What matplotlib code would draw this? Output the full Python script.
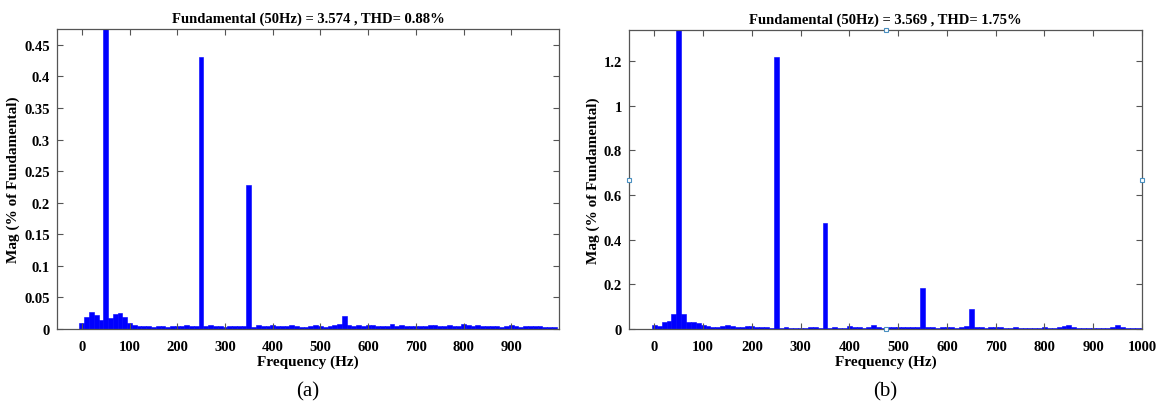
import numpy as np
import matplotlib
matplotlib.use("Agg")
from matplotlib import pyplot as plt

plt.rcParams['font.family'] = ['Liberation Serif', 'DejaVu Serif']

# Frequency bins (Hz), 10 Hz resolution
freq_a = np.arange(0, 1000, 10)
freq_b = np.arange(0, 1010, 10)

# Harmonic spectrum (% of fundamental) - case (a)
mag_a = [0.010, 0.019, 0.027, 0.022, 0.015, 100.0, 0.018, 0.024, 0.026, 0.019,
         0.010, 0.006, 0.005, 0.005, 0.004, 0.003, 0.004, 0.004, 0.003, 0.004,
         0.004, 0.005, 0.006, 0.005, 0.004, 0.430, 0.004, 0.006, 0.005, 0.004,
         0.003, 0.004, 0.005, 0.004, 0.004, 0.228, 0.003, 0.006, 0.005, 0.004,
         0.006, 0.005, 0.004, 0.005, 0.007, 0.004, 0.003, 0.003, 0.005, 0.006,
         0.004, 0.003, 0.004, 0.006, 0.008, 0.020, 0.007, 0.005, 0.006, 0.005,
         0.007, 0.006, 0.005, 0.004, 0.004, 0.008, 0.004, 0.006, 0.004, 0.004,
         0.005, 0.004, 0.005, 0.006, 0.007, 0.005, 0.004, 0.007, 0.005, 0.004,
         0.008, 0.006, 0.004, 0.007, 0.005, 0.005, 0.004, 0.004, 0.003, 0.004,
         0.006, 0.004, 0.003, 0.004, 0.005, 0.005, 0.004, 0.003, 0.003, 0.003]

# Harmonic spectrum (% of fundamental) - case (b)
mag_b = [0.016, 0.012, 0.032, 0.038, 0.065, 100.0, 0.065, 0.032, 0.030, 0.026,
         0.016, 0.012, 0.010, 0.010, 0.012, 0.017, 0.012, 0.010, 0.008, 0.012,
         0.012, 0.008, 0.007, 0.007, 0.006, 1.220, 0.006, 0.007, 0.005, 0.006,
         0.006, 0.005, 0.007, 0.007, 0.006, 0.475, 0.006, 0.010, 0.006, 0.006,
         0.012, 0.009, 0.007, 0.006, 0.008, 0.020, 0.008, 0.006, 0.007, 0.010,
         0.008, 0.007, 0.007, 0.008, 0.008, 0.185, 0.008, 0.010, 0.006, 0.007,
         0.008, 0.010, 0.006, 0.008, 0.012, 0.090, 0.008, 0.007, 0.006, 0.007,
         0.009, 0.007, 0.006, 0.006, 0.007, 0.006, 0.006, 0.006, 0.006, 0.006,
         0.009, 0.006, 0.005, 0.007, 0.014, 0.020, 0.010, 0.005, 0.005, 0.005,
         0.004, 0.005, 0.005, 0.006, 0.010, 0.017, 0.007, 0.005, 0.005, 0.005,
         0.005]

title_a = "Fundamental (50Hz) = 3.574 , THD= 0.88%"
title_b = "Fundamental (50Hz) = 3.569 , THD= 1.75%"
ticks_a = np.arange(0, 1000, 100)
ticks_b = np.arange(0, 1100, 100)
yticks_a = [0, 0.05, 0.1, 0.15, 0.2, 0.25, 0.3, 0.35, 0.4, 0.45]
yticks_b = [0, 0.2, 0.4, 0.6, 0.8, 1, 1.2]
ylim_a = 0.475
ylim_b = 1.34

W, H = 1161, 406
fig = plt.figure(figsize=(W/100, H/100), dpi=100)

def make_axes(x0, x1, y0, y1):
    return fig.add_axes([x0/W, 1 - y1/H, (x1 - x0)/W, (y1 - y0)/H])

def style(ax, freq, mag, title, xt, yt, ytop, letter):
    ax.bar(freq, mag, width=10, color='#0000ff', edgecolor='#0000ff', linewidth=0.4)
    ax.set_xlim(-52, 1000)
    ax.set_ylim(0, ytop)
    ax.set_xticks(xt)
    ax.set_yticks(yt)
    ax.set_yticklabels([f"{v:g}" for v in yt])
    ax.tick_params(direction='in', top=True, right=True, length=4, width=0.8,
                   color='#555555', labelsize=10.5)
    ax.tick_params(axis='x', pad=8)
    ax.tick_params(axis='y', pad=5)
    for lab in ax.get_xticklabels() + ax.get_yticklabels():
        lab.set_fontweight('bold')
    for sp in ax.spines.values():
        sp.set_color('#555555')
        sp.set_linewidth(0.9)
    ax.set_title(title, fontsize=10.5, fontweight='bold', pad=5)
    ax.set_xlabel("Frequency (Hz)", fontsize=11, fontweight='bold', labelpad=1)
    ax.set_ylabel("Mag (% of Fundamental)", fontsize=11, fontweight='bold', labelpad=3)
    ax.text(0.5, -0.175, letter, transform=ax.transAxes, ha='center', va='top',
            fontsize=15)

ax1 = make_axes(57, 559, 30, 330)
style(ax1, freq_a, mag_a, title_a, ticks_a, yticks_a, ylim_a, "(a)")

ax2 = make_axes(629, 1142, 31, 330)
style(ax2, freq_b, mag_b, title_b, ticks_b, yticks_b, ylim_b, "(b)")

# selection handles left on the second axes
for hx, hy in [(0.5, 1), (0.5, 0), (0, 0.5), (1, 0.5)]:
    ax2.plot(hx, hy, 's', ms=3.5, mfc='white', mec='#4a90c0', mew=0.8,
             transform=ax2.transAxes, clip_on=False, zorder=5)

fig.savefig("out.png", dpi=100)
